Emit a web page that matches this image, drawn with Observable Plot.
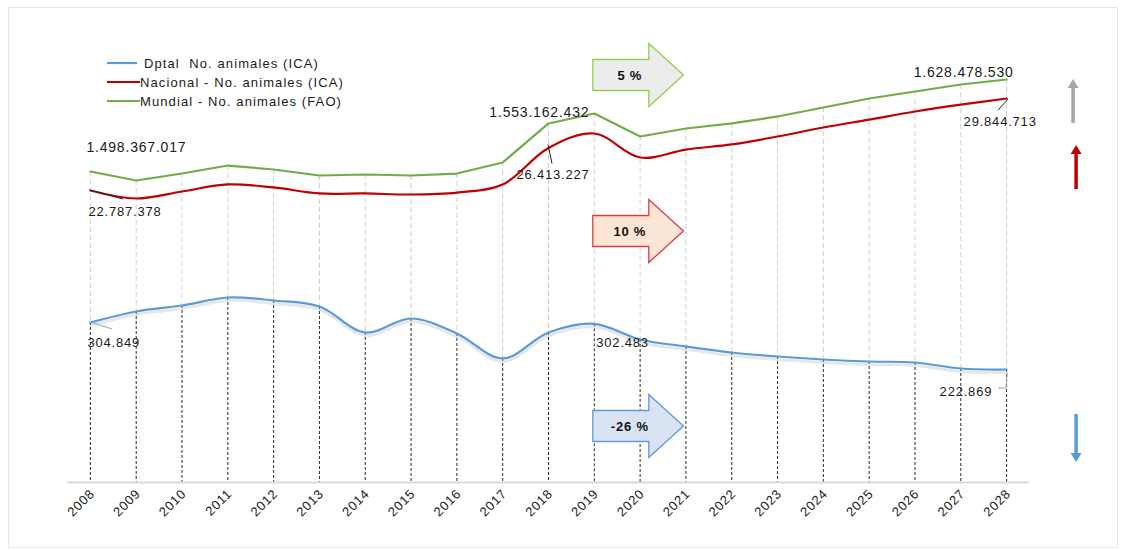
<!DOCTYPE html>
<html><head><meta charset="utf-8">
<script src="https://cdn.jsdelivr.net/npm/d3@7"></script>
<script src="https://cdn.jsdelivr.net/npm/@observablehq/plot@0.6"></script>
<style>
html,body{margin:0;padding:0;background:#fff;}
#chart{position:relative;width:1124px;height:550px;}
</style></head><body><div id="chart"></div>
<script>
// ---------------- data ----------------
const years = [2008,2009,2010,2011,2012,2013,2014,2015,2016,2017,2018,2019,2020,2021,2022,2023,2024,2025,2026,2027,2028];
const dptal = [304849,324000,334500,348400,343200,332700,287400,311800,285700,242100,287400,302483,275200,263000,252500,245500,240300,236800,235100,224600,222869];
const nacional = [22787378,22174000,22710000,23250000,23020000,22560000,22560000,22480000,22630000,23250000,26050000,27160000,25320000,25930000,26320000,26930000,27620000,28230000,28850000,29380000,29844713];
const mundial = [1498367017,1485600000,1495500000,1506800000,1501200000,1492700000,1494100000,1492700000,1495500000,1511100000,1566300000,1580400000,1547900000,1559200000,1566300000,1576200000,1588900000,1601600000,1611500000,1621400000,1628478530];
const seriesNames = ["Dptal  No. animales (ICA)","Nacional - No. animales (ICA)","Mundial - No. animales (FAO)"];
const labelSeries = ["mundial","nacional","mundial","nacional","mundial","nacional","dptal","dptal","dptal"];
const labelYears  = [2008,2008,2019,2018,2028,2028,2008,2019,2028];
const labelTexts  = ["1.498.367.017","22.787.378","1.553.162.432","26.413.227","1.628.478.530","29.844.713","304.849","302.483","222.869"];
const changeTexts = ["5 %","10 %","-26 %"];

// ---------------- presentation config ----------------
const colors = {dptal:"#5b9bd5", nacional:"#c00000", mundial:"#70ad47"};
// each series is drawn in its own vertical band of a shared 0..100 display scale
const bands = {
  dptal: d3.scaleLinear().domain([222869,304849]).range([25.11,35.56]),
  nacional: d3.scaleLinear().domain([22787378,29844713]).range([64.89,85.33]),
  mundial: d3.scaleLinear().domain([1498367017,1628478530]).range([69.11,89.56])
};
const labelPlace = [
  {dx:-4, dy:-24, anchor:"start", size:14},
  {dx:-2, dy:21, anchor:"start", size:13},
  {dx:-5, dy:-1, anchor:"end", size:14},
  {dx:-32, dy:27, anchor:"start", size:13},
  {dx:7, dy:-7, anchor:"end", size:14},
  {dx:-43, dy:23, anchor:"start", size:13},
  {dx:-3, dy:20, anchor:"start", size:13},
  {dx:2, dy:19, anchor:"start", size:13},
  {dx:-67, dy:22, anchor:"start", size:13}
];
const font = "'Liberation Sans', Arial, sans-serif";

const rows = years.map((year,i)=>({year, dptal:dptal[i], nacional:nacional[i], mundial:mundial[i]}));
const yOf = k => d => bands[k](d[k]);

const labelMarks = labelTexts.map((t,i)=>{
  const p = labelPlace[i], k = labelSeries[i];
  const row = rows.find(r=>r.year===labelYears[i]);
  return Plot.text([{year:row.year, v:bands[k](row[k]), t}], {
    x:"year", y:"v", text:"t", dx:p.dx, dy:p.dy, textAnchor:p.anchor,
    fontSize:p.size, fill:"#1a1a1a", className:"dlabel"
  });
});

const plot = Plot.plot({
  width:1124, height:550,
  marginLeft:67, marginRight:95, marginTop:32, marginBottom:68,
  x:{type:"point", domain:years, padding:0.5, round:false, label:null},
  y:{domain:[0,100], axis:null},
  style:{fontFamily:font, background:"white", overflow:"visible"},
  marks:[
    Plot.ruleX(rows,{x:"year", y1:yOf("mundial"), y2:yOf("dptal"), stroke:"#cfcfcf", strokeDasharray:"5,3"}),
    Plot.ruleX(rows,{x:"year", y1:yOf("dptal"), y2:0, stroke:"#2b2b2b", strokeDasharray:"3,2"}),
    Plot.ruleY([0],{stroke:"#d9d9d9", strokeWidth:2}),
    Plot.axisX({tickRotate:-45, tickSize:0, tickPadding:9, fontSize:13, dx:2, fill:"#222", className:"xax", tickFormat:d=>String(d), label:null}),
    Plot.lineY(rows,{x:"year", y:yOf("dptal"), curve:"catmull-rom", stroke:"#b0b0b0", strokeWidth:3, strokeOpacity:0.3, dy:3}),
    Plot.lineY(rows,{x:"year", y:yOf("dptal"), curve:"catmull-rom", stroke:colors.dptal, strokeWidth:2.2}),
    Plot.lineY(rows,{x:"year", y:yOf("nacional"), curve:"catmull-rom", stroke:colors.nacional, strokeWidth:2.2}),
    Plot.lineY(rows,{x:"year", y:yOf("mundial"), stroke:colors.mundial, strokeWidth:2.2}),
    ...labelMarks
  ]
});
document.getElementById("chart").appendChild(plot);

const svg = d3.select(plot);
svg.selectAll(".dlabel text").style("letter-spacing","0.8px");
svg.selectAll(".xax text").style("letter-spacing","0.8px");

const sx = plot.scale("x"), sy = plot.scale("y");
const X = v => sx.apply(v), Y = u => sy.apply(u);
const pt = (k, yr) => { const r = rows.find(d=>d.year===yr); return [X(yr), Y(bands[k](r[k]))]; };
const g = svg.append("g").attr("text-anchor","start");

// frame
g.append("rect").attr("x",8.5).attr("y",7.5).attr("width",1109).attr("height",540)
  .attr("fill","none").attr("stroke","#e6e6e6");

// leader lines
const leaders = [
  {k:"nacional", yr:2008, d:[[0,0],[33,9]], c:"#222"},
  {k:"dptal", yr:2008, d:[[0,0],[22,7]], c:"#a0a0a0"},
  {k:"nacional", yr:2018, d:[[0,-3],[4,16]], c:"#222"},
  {k:"nacional", yr:2028, d:[[2,1],[-8,12]], c:"#222"},
  {k:"dptal", yr:2028, d:[[1,4],[0,19],[-8,19]], c:"#a0a0a0"}
];
leaders.forEach(l=>{
  const [px,py] = pt(l.k,l.yr);
  g.append("path").attr("d", d3.line()(l.d.map(([a,b])=>[px+a,py+b])))
   .attr("fill","none").attr("stroke",l.c).attr("stroke-width",1);
});

// block arrows
const arrowStyles = [
  {u:90.44, fill:"#ececec", stroke:"#92d050"},
  {u:55.78, fill:"#fbe5d6", stroke:"#e03a3a"},
  {u:12.44, fill:"#dae3f3", stroke:"#5b9bd5"}
];
arrowStyles.forEach((a,i)=>{
  const x0 = X(2019)-1, tip = X(2021)-2, hb = x0+56, cy = Y(a.u), bh=15.5, hh=31.5;
  const pts = [[x0,cy-bh],[hb,cy-bh],[hb,cy-hh],[tip,cy],[hb,cy+hh],[hb,cy+bh],[x0,cy+bh]];
  g.append("polygon").attr("points", pts.map(p=>p.join(",")).join(" "))
   .attr("fill",a.fill).attr("stroke",a.stroke).attr("stroke-width",1.3);
  g.append("text").attr("x",x0+37).attr("y",cy).attr("dy","0.35em").attr("text-anchor","middle")
   .attr("font-family",font).attr("font-size",13).attr("font-weight","bold")
   .style("letter-spacing","0.8px").attr("fill","#111").text(changeTexts[i]);
});

// trend arrows at right
const trends = [
  {u0:79.78, u1:89.56, c:"#a6a6a6", dx:67},
  {u0:65.11, u1:74.89, c:"#c00000", dx:70},
  {u0:15.11, u1:4.44, c:"#5b9bd5", dx:70}
];
trends.forEach(t=>{
  const x = X(2028)+t.dx, y0 = Y(t.u0), y1 = Y(t.u1), dir = Math.sign(y1-y0), hl = 9;
  g.append("line").attr("x1",x).attr("x2",x).attr("y1",y0).attr("y2",y1-dir*hl)
   .attr("stroke",t.c).attr("stroke-width",3.5);
  g.append("polygon").attr("points",[[x-5.5,y1-dir*hl],[x+5.5,y1-dir*hl],[x,y1]].map(p=>p.join(",")).join(" "))
   .attr("fill",t.c);
});

// legend
const legendColors = [colors.dptal, colors.nacional, colors.mundial];
const legendTextX = [144,140,140];
seriesNames.forEach((n,i)=>{
  const y = 63 + i*19;
  g.append("line").attr("x1",107).attr("x2",i===0?137:140).attr("y1",y).attr("y2",y)
   .attr("stroke",legendColors[i]).attr("stroke-width",2.2);
  g.append("text").attr("x",legendTextX[i]).attr("y",y).attr("dy","0.35em").attr("text-anchor","start")
   .attr("font-family",font).attr("font-size",13).attr("fill","#1a1a1a")
   .style("letter-spacing","1.1px").style("white-space","pre").text(n);
});
</script></body></html>
